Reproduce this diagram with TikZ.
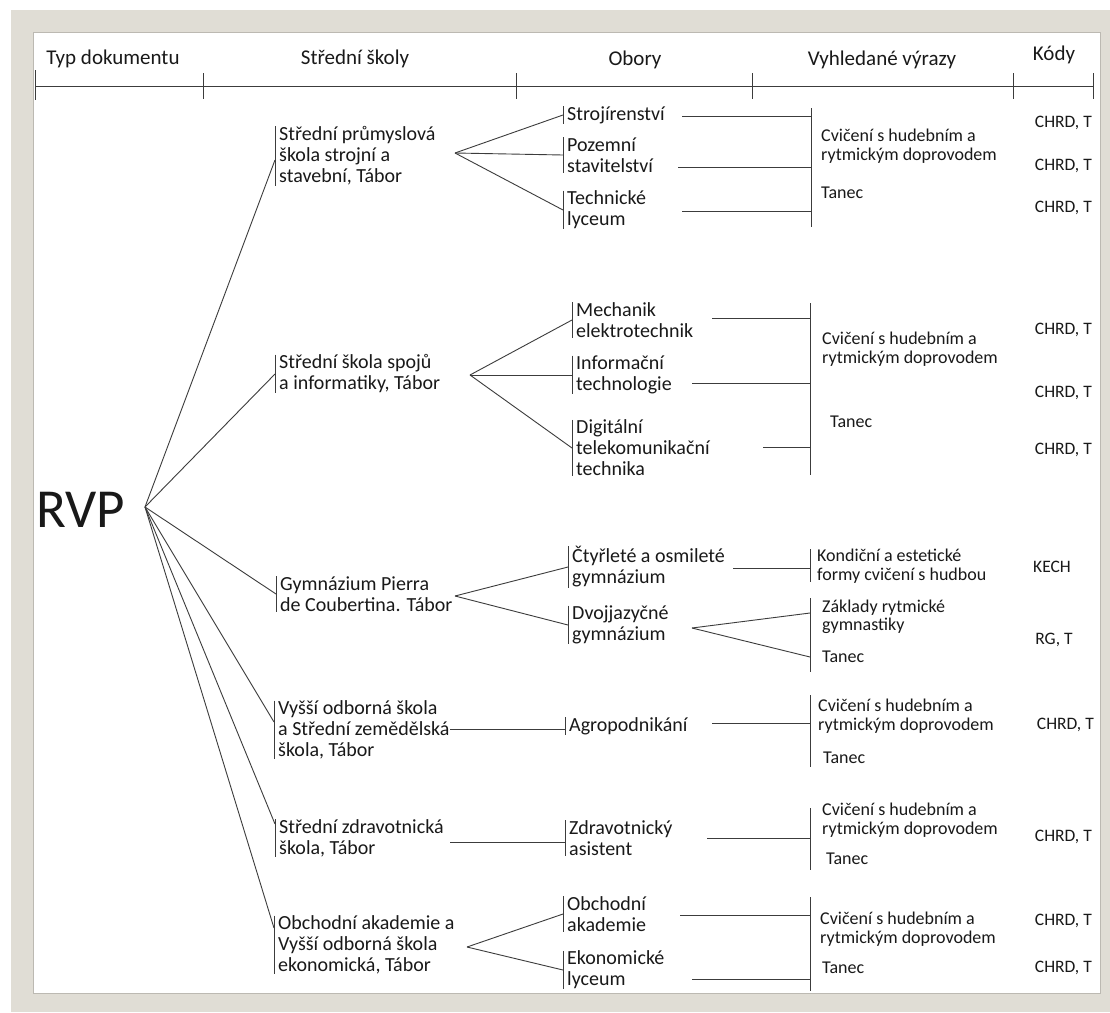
\documentclass[tikz,border=0pt]{standalone}
\usepackage{fontspec}
\setmainfont{Carlito}
\definecolor{framecol}{RGB}{224,221,213}
\definecolor{frameedge}{RGB}{188,185,178}
\definecolor{lncol}{RGB}{60,60,60}
\definecolor{txt}{RGB}{25,25,25}
\newcommand\mybar[1]{\draw[ln] (#1.north west) -- (#1.south west);}
\begin{document}
\begin{tikzpicture}[x=1pt,y=-1pt,
  ln/.style={draw=lncol,line width=0.9pt},
  hdr/.style={font=\fontsize{21}{22}\selectfont,text=txt,inner sep=0pt},
  school/.style={anchor=west,align=left,inner xsep=4pt,inner ysep=0pt,text=txt,font=\fontsize{20}{21}\selectfont},
  term/.style={anchor=west,align=left,inner sep=0pt,text=txt,font=\fontsize{18}{18.5}\selectfont},
  code/.style={inner sep=0pt,text=txt,font=\fontsize{17.5}{18}\selectfont}
]
\useasboundingbox (0,0) rectangle (1110,1012);
\fill[framecol] (11,10) rectangle (1110,1012);
\filldraw[fill=white,draw=frameedge,line width=1pt] (33,32) rectangle (1100,993);

% header
\node[hdr] (h1) at (113,59) {Typ dokumentu};
\node[hdr] (h2) at (355,59) {Střední školy};
\node[hdr] (h3) at (635,60) {Obory};
\node[hdr] (h4) at (882,60) {Vyhledané výrazy};
\node[hdr] (h5) at (1054,55) {Kódy};
\draw[ln] (35,86) -- (1093,86);
\draw[ln] (35,70) -- (35,100);
\foreach \x in {203,516,752,1013,1093} \draw[ln] (\x,73) -- (\x,99);

% root
\node[inner sep=0pt,anchor=west,text=txt,font=\fontsize{55}{60}\selectfont] (rvp) at (36,510) {RVP};
\coordinate (r0) at (145,507);

% schools
\node[school] (s1) at (275,156) {Střední průmyslová\\škola strojní a\\stavební, Tábor}; \mybar{s1}
\node[school] (s2) at (275,374) {Střední škola spojů\\a informatiky, Tábor}; \mybar{s2}
\node[school] (s3) at (276,594) {Gymnázium Pierra\\de Coubertina. Tábor}; \mybar{s3}
\node[school] (s4) at (274,730) {Vyšší odborná škola\\a Střední zemědělská\\škola, Tábor}; \mybar{s4}
\node[school] (s5) at (275,838) {Střední zdravotnická\\škola, Tábor}; \mybar{s5}
\node[school] (s6) at (274,945) {Obchodní akademie a\\Vyšší odborná škola\\ekonomická, Tábor}; \mybar{s6}

\draw[ln] (r0) -- ([yshift=-4pt]s1.west);
\draw[ln] (r0) -- (s2.west);
\draw[ln] (r0) -- (s3.west);
\draw[ln] (r0) -- ([yshift=8pt]s4.west);
\draw[ln] (r0) -- ([yshift=14pt]s5.west);
\draw[ln] (r0) -- ([yshift=17pt]s6.west);

% obory
\node[school] (o11) at (563,115) {Strojírenství}; \mybar{o11}
\node[school] (o12) at (563,155) {Pozemní\\stavitelství}; \mybar{o12}
\node[school] (o13) at (563,210) {Technické\\lyceum}; \mybar{o13}
\node[school] (o21) at (572,320) {Mechanik\\elektrotechnik}; \mybar{o21}
\node[school] (o22) at (572,375) {Informační\\technologie}; \mybar{o22}
\node[school] (o23) at (572,448) {Digitální\\telekomunikační\\technika}; \mybar{o23}
\node[school] (o31) at (568,567) {Čtyřleté a osmileté\\gymnázium}; \mybar{o31}
\node[school] (o32) at (568,625) {Dvojjazyčné\\gymnázium}; \mybar{o32}
\node[school] (o41) at (565,726) {Agropodnikání}; \mybar{o41}
\node[school] (o51) at (565,838) {Zdravotnický\\asistent}; \mybar{o51}
\node[school] (o61) at (563,914) {Obchodní\\akademie}; \mybar{o61}
\node[school] (o62) at (563,970) {Ekonomické\\lyceum}; \mybar{o62}

% school -> obory
\coordinate (a1) at (455,153);
\coordinate (a2) at (470,375);
\coordinate (a3) at (455,596);
\coordinate (a4) at (450,729);
\coordinate (a5) at (450,842);
\coordinate (a6) at (467,947);
\draw[ln] (a1) -- (o11.west); \draw[ln] (a1) -- (o12.west); \draw[ln] (a1) -- (o13.west);
\draw[ln] (a2) -- (o21.west); \draw[ln] (a2) -- (o22.west); \draw[ln] (a2) -- (o23.west);
\draw[ln] (a3) -- (o31.west); \draw[ln] (a3) -- (o32.west);
\draw[ln] (a4) -- (a4 -| o41.west);
\draw[ln] (a5) -- (a5 -| o51.west);
\draw[ln] (a6) -- (o61.west); \draw[ln] (a6) -- (o62.west);

% term bars
\coordinate (b1t) at (811,108); \coordinate (b1b) at (811,227);
\coordinate (b2t) at (810,303); \coordinate (b2b) at (810,475);
\coordinate (b3t) at (810,549); \coordinate (b3b) at (810,582);
\coordinate (b4t) at (810,598); \coordinate (b4b) at (810,672);
\coordinate (b5t) at (810,695); \coordinate (b5b) at (810,767);
\coordinate (b6t) at (810,808); \coordinate (b6b) at (810,870);
\coordinate (b7t) at (810,897); \coordinate (b7b) at (810,991);
\foreach \b in {1,...,7} \draw[ln] (b\b t) -- (b\b b);

% obory -> term bars
\coordinate (c11) at (682,116);
\coordinate (c12) at (678,167);
\coordinate (c13) at (682,211);
\coordinate (c21) at (712,318);
\coordinate (c22) at (692,383);
\coordinate (c23) at (763,447);
\coordinate (c31) at (733,568);
\coordinate (c32) at (692,628);
\coordinate (c41) at (712,723);
\coordinate (c51) at (707,838);
\coordinate (c61) at (680,915);
\coordinate (c62) at (692,979);
\draw[ln] (c11) -- (c11 -| b1t);
\draw[ln] (c12) -- (c12 -| b1t);
\draw[ln] (c13) -- (c13 -| b1t);
\draw[ln] (c21) -- (c21 -| b2t);
\draw[ln] (c22) -- (c22 -| b2t);
\draw[ln] (c23) -- (c23 -| b2t);
\draw[ln] (c31) -- (c31 -| b3t);
\draw[ln] (c32) -- (b4t |- 0,613);
\draw[ln] (c32) -- (b4t |- 0,657);
\draw[ln] (c41) -- (c41 -| b5t);
\draw[ln] (c51) -- (c51 -| b6t);
\draw[ln] (c61) -- (c61 -| b7t);
\draw[ln] (c62) -- (c62 -| b7t);

% terms
\node[term] (t11) at (821,146) {Cvičení s hudebním a\\rytmickým doprovodem};
\node[term] (t12) at (821,193) {Tanec};
\node[term] (t21) at (822,349) {Cvičení s hudebním a\\rytmickým doprovodem};
\node[term] (t22) at (830,422) {Tanec};
\node[term] (t31) at (817,566) {Kondiční a estetické\\formy cvičení s hudbou};
\node[term] (t41) at (822,617) {Základy rytmické\\gymnastiky};
\node[term] (t42) at (822,657) {Tanec};
\node[term] (t51) at (818,716) {Cvičení s hudebním a\\rytmickým doprovodem};
\node[term] (t52) at (823,758) {Tanec};
\node[term] (t61) at (822,820) {Cvičení s hudebním a\\rytmickým doprovodem};
\node[term] (t62) at (826,859) {Tanec};
\node[term] (t71) at (820,929) {Cvičení s hudebním a\\rytmickým doprovodem};
\node[term] (t72) at (822,968) {Tanec};

% codes
\node[code,anchor=east] (k11) at (1092,123) {CHRD, T};
\node[code,anchor=east] (k12) at (1092,166) {CHRD, T};
\node[code,anchor=east] (k13) at (1092,208) {CHRD, T};
\node[code,anchor=east] (k21) at (1092,330) {CHRD, T};
\node[code,anchor=east] (k22) at (1092,393) {CHRD, T};
\node[code,anchor=east] (k23) at (1092,450) {CHRD, T};
\node[code] (k31) at (1052,567) {KECH};
\node[code] (k41) at (1054,640) {RG, T};
\node[code,anchor=east] (k51) at (1094,725) {CHRD, T};
\node[code,anchor=east] (k61) at (1092,837) {CHRD, T};
\node[code,anchor=east] (k71) at (1092,921) {CHRD, T};
\node[code,anchor=east] (k72) at (1092,968) {CHRD, T};
\end{tikzpicture}
\end{document}
